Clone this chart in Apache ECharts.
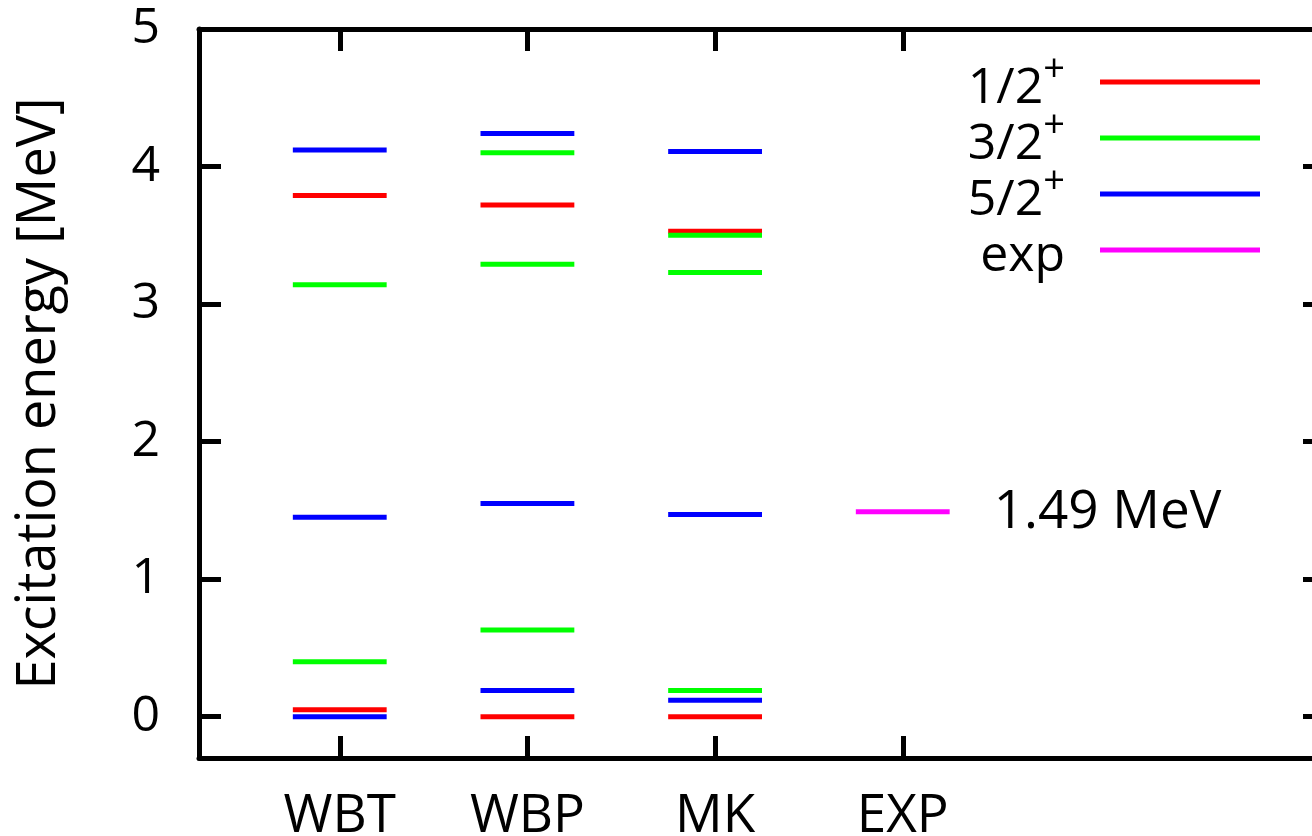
<!DOCTYPE html>
<html>
<head>
<meta charset="utf-8">
<style>
  html, body { margin: 0; padding: 0; background: #fff; }
  #chart { width: 1312px; height: 836px; }
</style>
<script src="https://cdn.jsdelivr.net/npm/echarts@6/dist/echarts.min.js"></script>
</head>
<body>
<div id="chart"></div>
<script>
// ---- data ----
const categories = ['WBT', 'WBP', 'MK', 'EXP'];
const yTicks = [0, 1, 2, 3, 4, 5];
// energy levels per model (index follows categories)
const levels12 = [[3.79, 0.05], [3.72, 0.00], [3.53, 0.00], []];
const levels32 = [[3.14, 0.40], [4.10, 3.29, 0.63], [3.50, 3.23, 0.19], []];
const levels52 = [[4.12, 1.45, 0.00], [4.24, 1.55, 0.19], [4.11, 1.47, 0.12], []];
const levelsExp = [[], [], [], [1.49]];
const expLabel = '1.49 MeV';
const seriesNames = ['1/2+', '3/2+', '5/2+', 'exp'];
const seriesColors = ['#ff0000', '#00ff00', '#0000ff', '#ff00ff'];

const FONT = 'Open Sans';
const HALF = 0.25;

function toData(levels) {
  const out = [];
  levels.forEach((arr, i) => arr.forEach(v => out.push([i + 1, v])));
  return out;
}

function makeSeries(name, color, levels, withLabel) {
  return {
    name: name,
    type: 'custom',
    xAxisIndex: 0,
    yAxisIndex: 0,
    itemStyle: { color: color },
    data: toData(levels),
    renderItem: function (params, api) {
      const x = api.value(0), y = api.value(1);
      const p1 = api.coord([x - HALF, y]);
      const p2 = api.coord([x + HALF, y]);
      const children = [{
        type: 'line',
        shape: { x1: p1[0], y1: p1[1], x2: p2[0], y2: p2[1] },
        style: { stroke: color, lineWidth: 5 }
      }];
      if (withLabel) {
        children.push({
          type: 'text',
          style: {
            x: p2[0] + 44, y: p2[1] + 1, text: expLabel,
            font: '53px "' + FONT + '"', fill: '#000',
            align: 'left', verticalAlign: 'middle'
          }
        });
      }
      return { type: 'group', children: children };
    }
  };
}

const chart = echarts.init(document.getElementById('chart'), null, { renderer: 'canvas' });

const axisLineStyle = { color: '#000', width: 5 };
const tickStyle = { color: '#000', width: 5 };

const option = {
  animation: false,
  backgroundColor: '#fff',
  textStyle: { fontFamily: FONT },
  grid: { left: 199, top: 29, width: 1126, height: 729, containLabel: false, outerBoundsMode: 'none' },
  legend: {
    orient: 'vertical',
    align: 'right',
    right: 52,
    top: 50,
    padding: 0,
    itemGap: -8,
    itemWidth: 160,
    itemHeight: 5,
    icon: 'rect',
    selectedMode: false,
    data: seriesNames,
    formatter: function (name) {
      if (name.endsWith('+')) return '{b|' + name.slice(0, -1) + '}{sup|+}';
      return '{b|' + name + '}';
    },
    textStyle: {
      backgroundColor: 'rgba(255,255,255,0)',
      padding: [0, 30, 0, 0],
      rich: {
        b: { fontSize: 50, fontFamily: FONT, color: '#000', lineHeight: 56, padding: [14, 0, 0, 0] },
        sup: { fontSize: 38, fontFamily: FONT, color: '#000', lineHeight: 2, padding: [0, 0, 24, 0] }
      }
    }
  },
  xAxis: [{
    type: 'value', position: 'bottom', min: 0.25, max: 6.25,
    splitLine: { show: false },
    axisLine: { show: true, onZero: false, lineStyle: axisLineStyle },
    axisTick: { show: true, inside: true, length: 22, lineStyle: tickStyle, customValues: [1, 2, 3, 4] },
    axisLabel: {
      show: true, margin: 32, fontSize: 53, fontFamily: FONT, color: '#000',
      customValues: [1, 2, 3, 4],
      formatter: function (v) { return categories[Math.round(v) - 1] || ''; }
    }
  }, {
    type: 'value', position: 'top', min: 0.25, max: 6.25,
    splitLine: { show: false },
    axisLine: { show: true, onZero: false, lineStyle: axisLineStyle },
    axisTick: { show: true, inside: true, length: 22, lineStyle: tickStyle, customValues: [1, 2, 3, 4] },
    axisLabel: { show: false }
  }],
  yAxis: [{
    type: 'value', position: 'left', min: -0.3, max: 5,
    splitLine: { show: false },
    axisLine: { show: true, onZero: false, lineStyle: axisLineStyle },
    axisTick: { show: true, inside: true, length: 22, lineStyle: tickStyle, customValues: yTicks },
    axisLabel: {
      show: true, margin: 39, fontSize: 50, fontFamily: FONT, color: '#000',
      customValues: yTicks,
      formatter: function (v) { return String(Math.round(v)); }
    },
    name: 'Excitation energy [MeV]',
    nameLocation: 'middle',
    nameGap: 132,
    nameRotate: 90,
    nameTextStyle: { fontSize: 54, fontFamily: FONT, color: '#000' }
  }, {
    type: 'value', position: 'right', min: -0.3, max: 5,
    splitLine: { show: false },
    axisLine: { show: true, onZero: false, lineStyle: axisLineStyle },
    axisTick: { show: true, inside: true, length: 22, lineStyle: tickStyle, customValues: yTicks },
    axisLabel: { show: false }
  }],
  series: [
    makeSeries(seriesNames[0], seriesColors[0], levels12, false),
    makeSeries(seriesNames[1], seriesColors[1], levels32, false),
    makeSeries(seriesNames[2], seriesColors[2], levels52, false),
    makeSeries(seriesNames[3], seriesColors[3], levelsExp, true)
  ]
};

chart.setOption(option);
</script>
</body>
</html>
